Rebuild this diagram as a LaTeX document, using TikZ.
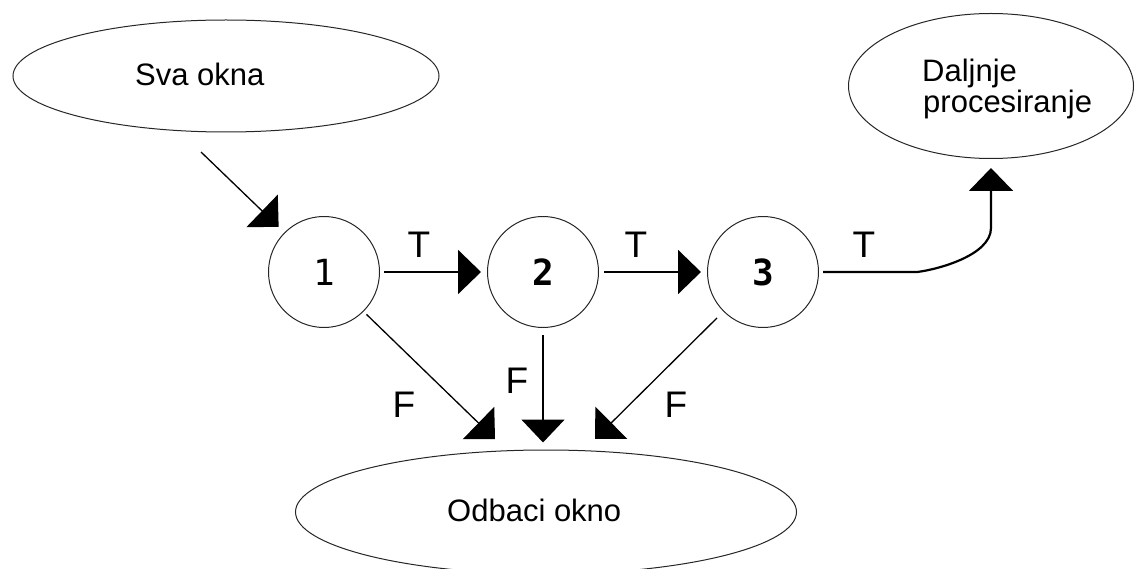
\documentclass[tikz,border=0pt]{standalone}
\usepackage{fontspec}
\setmainfont{Liberation Sans}
\newfontfamily\digitfont{DejaVu Sans Mono}
\usetikzlibrary{shapes.geometric,arrows.meta}

\begin{document}
\begin{tikzpicture}[x=1pt,y=-1pt,
  shapeline/.style={draw=black!85, line width=1pt},
  oval/.style={shapeline, ellipse, inner sep=0pt},
  numcircle/.style={shapeline, circle, minimum size=111pt, inner sep=0pt,
    font=\digitfont\fontsize{36}{36}\selectfont},
  lbl/.style={font=\fontsize{31}{31}\selectfont, inner sep=0pt},
  tf/.style={font=\fontsize{37}{37}\selectfont, inner sep=0pt, anchor=base},
  thickarrow/.style={line width=2.2pt, -{Triangle[length=23pt,width=44pt]}},
  thinarrow/.style={line width=1.3pt, -{Triangle[length=23pt,width=45pt]}},
]
\path[use as bounding box] (0,0) rectangle (1135,569);

% ovals
\node[oval, minimum width=426pt, minimum height=112pt] (sva) at (226,76) {};
\node[lbl, anchor=base west] (svat) at (135,86) {Sva okna};
\node[oval, minimum width=285pt, minimum height=145pt] (dal) at (991,86) {};
\node[lbl, anchor=base west] (dalt1) at (922,82) {Daljnje};
\node[lbl, anchor=base west] (dalt2) at (923,113) {procesiranje};
\node[oval, minimum width=501pt, minimum height=124pt] (odb) at (546,512) {};
\node[lbl, anchor=base west] (odbt) at (447,521) {Odbaci okno};

% decision circles
\node[numcircle] (n1) at (324,272) {1};
\node[numcircle] (n2) at (543,272) {\bfseries 2};
\node[numcircle] (n3) at (763,272) {\bfseries 3};

% free ends
\coordinate (s0) at (201,152);
\coordinate (f1) at (495,439);
\coordinate (f3) at (595,439);

% connectors
\draw[thinarrow, shorten >=8pt] (s0) -- (n1.135);
\draw[thickarrow, shorten <=4pt, shorten >=6pt] (n1.east) -- (n2.west);
\draw[thickarrow, shorten <=5pt, shorten >=6pt] (n2.east) -- (n3.west);
\draw[thickarrow, shorten >=9pt] ([xshift=4pt]n3.east) -- ++(94,0)
   .. controls +(18,-2) and +(0,28) .. ([yshift=-69pt]dal.south) -- (dal.south);
\draw[thinarrow, shorten <=4pt] (n1.-45) -- (f1);
\draw[line width=2pt, -{Triangle[length=23pt,width=43pt]}, shorten <=7pt, shorten >=7pt] (n2.south) -- (n2.south |- odb.north);
\draw[thinarrow, shorten <=9pt] (n3.-135) -- (f3);

% labels
\node[tf] (lt1) at (419,258) {T};
\node[tf] (lt2) at (636,258) {T};
\node[tf] (lt3) at (864,258) {T};
\node[tf] (lf1) at (404,417) {F};
\node[tf] (lf2) at (517,393) {F};
\node[tf] (lf3) at (676,417) {F};
\end{tikzpicture}
\end{document}
